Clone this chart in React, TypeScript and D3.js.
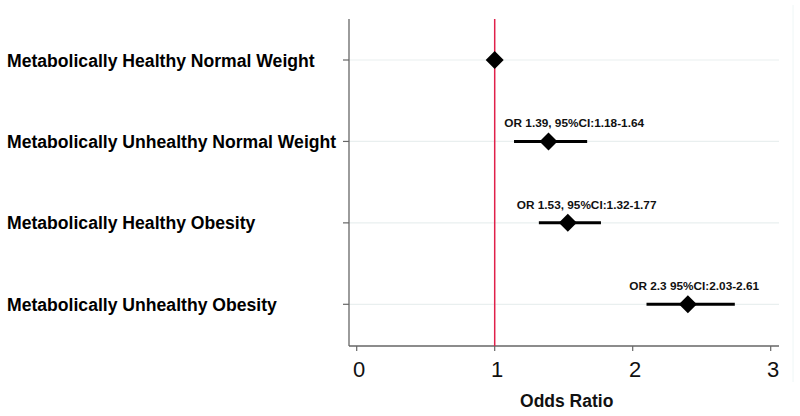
import React from "react";
import * as d3 from "d3";

const categories = [
  "Metabolically Healthy Normal Weight",
  "Metabolically Unhealthy Normal Weight",
  "Metabolically Healthy Obesity",
  "Metabolically Unhealthy Obesity",
];
const estimates = [1.0, 1.39, 1.53, 2.4];
const lower = [null, 1.14, 1.32, 2.1];
const upper = [null, 1.67, 1.77, 2.74];
const annotations = [
  "",
  "OR 1.39, 95%CI:1.18-1.64",
  "OR 1.53, 95%CI:1.32-1.77",
  "OR 2.3 95%CI:2.03-2.61",
];
const annotationX = [0, 1.07, 1.16, 1.975];
const xTicks = [0, 1, 2, 3];
const referenceValue = 1;
const xTitle = "Odds Ratio";

export default function App() {
  const W = 800;
  const H = 416;
  const plotLeft = 349;
  const plotRight = 779;
  const plotTop = 19;
  const plotBottom = 346;

  const x = d3.scaleLinear().domain([0, 3]).range([356.7, 770.7]);
  const y = d3.scalePoint<string>().domain(categories).range([60, 304.3]);

  const diamond = d3.symbol().type(d3.symbolSquare).size(162)();

  return (
    <svg
      width={W}
      height={H}
      style={{ position: "absolute", left: 0, top: 0, background: "#fff" }}
      fontFamily="'Liberation Sans', Arial, sans-serif"
    >
      <rect x={0} y={0} width={W} height={H} fill="#fff" />
      {/* faint right border */}
      <line x1={793} x2={793} y1={5} y2={382} stroke="#eef6f6" strokeWidth={1} />

      {/* gridlines */}
      {categories.map((c) => (
        <line
          key={"g" + c}
          x1={plotLeft}
          x2={plotRight}
          y1={y(c)}
          y2={y(c)}
          stroke="#e9efef"
          strokeWidth={1.2}
        />
      ))}

      {/* y axis */}
      <line x1={plotLeft} x2={plotLeft} y1={plotTop} y2={plotBottom} stroke="#666" strokeWidth={1.3} />
      {categories.map((c) => (
        <g key={"yt" + c}>
          <line x1={plotLeft - 6} x2={plotLeft} y1={y(c)} y2={y(c)} stroke="#666" strokeWidth={1.2} />
          <text
            x={7}
            y={(y(c) as number) + 6.5}
            fontSize={17.6}
            fontWeight="bold"
            fill="#000"
          >
            {c}
          </text>
        </g>
      ))}

      {/* x axis */}
      <line x1={plotLeft} x2={plotRight} y1={plotBottom} y2={plotBottom} stroke="#666" strokeWidth={1.3} />
      {xTicks.map((t) => (
        <g key={"xt" + t}>
          <line x1={x(t)} x2={x(t)} y1={plotBottom} y2={plotBottom + 5} stroke="#666" strokeWidth={1.2} />
          <text x={x(t) + 2.5} y={376.7} fontSize={22} textAnchor="middle" fill="#111">
            {t}
          </text>
        </g>
      ))}
      <text x={566.7} y={406.5} fontSize={17.5} fontWeight="bold" textAnchor="middle" fill="#111">
        {xTitle}
      </text>

      {/* reference line */}
      <line
        x1={x(referenceValue)}
        x2={x(referenceValue)}
        y1={plotTop}
        y2={plotBottom}
        stroke="#e0204a"
        strokeWidth={1.5}
      />

      {/* CIs and points */}
      {categories.map((c, i) => {
        const cy = y(c) as number;
        const lo = lower[i];
        const hi = upper[i];
        return (
          <g key={"p" + c}>
            {lo != null && hi != null && (
              <line x1={x(lo)} x2={x(hi)} y1={cy} y2={cy} stroke="#000" strokeWidth={3} />
            )}
            <path
              d={diamond as string}
              transform={`translate(${x(estimates[i])},${cy}) rotate(45)`}
              fill="#000"
            />
            {annotations[i] && (
              <text
                x={x(annotationX[i])}
                y={cy - 14}
                fontSize={11.8}
                fontWeight="bold"
                fill="#111"
              >
                {annotations[i]}
              </text>
            )}
          </g>
        );
      })}
    </svg>
  );
}
